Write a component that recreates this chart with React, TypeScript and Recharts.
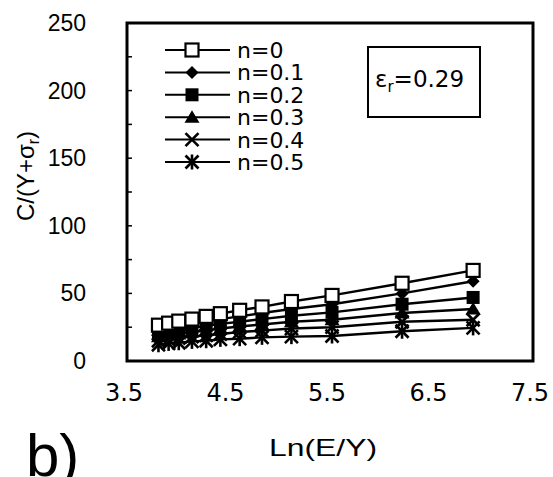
import React from "react";
import { LineChart, Line, XAxis, YAxis, ReferenceArea } from "recharts";

// Ln(E/Y) positions of the measured points
const lnEY = [3.81, 3.91, 4.01, 4.14, 4.28, 4.42, 4.61, 4.83, 5.12, 5.52, 6.21, 6.91];

// C/(Y+σr) for each n
const n0 = [26.5, 28, 29.5, 31, 33, 35, 37.5, 40, 44, 48.5, 57.5, 67];
const n01 = [23.5, 25, 26.5, 28, 29.5, 31, 33, 35.5, 38.5, 42, 50, 59];
const n02 = [20.5, 22, 23, 24.5, 26, 27.5, 29, 31, 33.5, 36, 42, 47];
const n03 = [18, 19, 20, 21.5, 22.5, 24, 25.5, 27, 29, 30.5, 35.5, 38.5];
const n04 = [15, 16, 17, 18, 19, 20, 21.5, 22.5, 24, 25, 29, 30.5];
const n05 = [12, 13, 13.5, 14.5, 15, 16, 16.5, 17.5, 18, 18.5, 22, 24.5];

const xTicks = [3.5, 4.5, 5.5, 6.5, 7.5];
const yTicks = [0, 25, 50, 75, 100, 125, 150, 175, 200, 225, 250];

const series = [
  { key: "n0", name: "n=0", values: n0, marker: "openSquare" },
  { key: "n01", name: "n=0.1", values: n01, marker: "diamond" },
  { key: "n02", name: "n=0.2", values: n02, marker: "square" },
  { key: "n03", name: "n=0.3", values: n03, marker: "triangle" },
  { key: "n04", name: "n=0.4", values: n04, marker: "cross" },
  { key: "n05", name: "n=0.5", values: n05, marker: "star" },
];

const data = lnEY.map((x, i) => {
  const row: any = { x };
  series.forEach((s) => (row[s.key] = s.values[i]));
  return row;
});

const ARIAL = "'Liberation Sans', Arial, sans-serif";
const WIDE = "'DejaVu Sans', sans-serif";

function Marker({ kind, cx, cy }: { kind: string; cx: number; cy: number }) {
  const s = 6.5;
  switch (kind) {
    case "openSquare":
      return <rect x={cx - s} y={cy - s} width={2 * s} height={2 * s} fill="#fff" stroke="#000" strokeWidth={2.2} />;
    case "diamond":
      return <polygon points={`${cx},${cy - s} ${cx + s},${cy} ${cx},${cy + s} ${cx - s},${cy}`} fill="#000" />;
    case "square":
      return <rect x={cx - s} y={cy - s} width={2 * s} height={2 * s} fill="#000" />;
    case "triangle":
      return <polygon points={`${cx},${cy - 7} ${cx + 7.5},${cy + 5.5} ${cx - 7.5},${cy + 5.5}`} fill="#000" />;
    case "cross":
      return (
        <g stroke="#000" strokeWidth={2.6}>
          <line x1={cx - s} y1={cy - s} x2={cx + s} y2={cy + s} />
          <line x1={cx - s} y1={cy + s} x2={cx + s} y2={cy - s} />
        </g>
      );
    default:
      return (
        <g stroke="#000" strokeWidth={2.6}>
          <line x1={cx - s} y1={cy - s} x2={cx + s} y2={cy + s} />
          <line x1={cx - s} y1={cy + s} x2={cx + s} y2={cy - s} />
          <line x1={cx} y1={cy - s - 1} x2={cx} y2={cy + s + 1} />
        </g>
      );
  }
}

const YTick = (props: any) => {
  const { x, y, payload } = props;
  return (
    <g>
      <line x1={x} y1={y} x2={x + 5} y2={y} stroke="#000" strokeWidth={1.5} />
      {payload.value % 50 === 0 && (
        <text x={x - 41} y={y + 8} textAnchor="end" fontSize={23} fontFamily={ARIAL} fill="#000">
          {payload.value}
        </text>
      )}
    </g>
  );
};

const XTick = (props: any) => {
  const { x, payload } = props;
  return (
    <text x={x - 3} y={401} textAnchor="middle" fontSize={24} fontFamily={WIDE} fill="#000">
      {payload.value}
    </text>
  );
};

export default function App() {
  return (
    <div style={{ position: "absolute", left: 0, top: 0, width: 553, height: 477, background: "#fff", fontFamily: ARIAL, overflow: "hidden" }}>
      <LineChart width={553} height={477} data={data} margin={{ top: 23, right: 20, bottom: 0, left: 0 }}>
        <XAxis
          dataKey="x"
          type="number"
          domain={[3.5, 7.5]}
          ticks={xTicks}
          height={116}
          axisLine={false}
          tickLine={false}
          tick={<XTick />}
          label={(p: any) => {
            const vb = p.viewBox || { x: 127, width: 406 };
            return (
              <text
                x={vb.x + vb.width / 2 - 7}
                y={456}
                textAnchor="middle"
                fontSize={24}
                fontFamily={ARIAL}
                textLength={108}
                lengthAdjust="spacingAndGlyphs"
                fill="#000"
              >
                Ln(E/Y)
              </text>
            );
          }}
        />
        <YAxis
          type="number"
          domain={[0, 250]}
          ticks={yTicks}
          width={127}
          axisLine={false}
          tickLine={false}
          tickSize={0}
          tickMargin={0}
          interval={0}
          tick={<YTick />}
          label={() => (
            <text
              x={34}
              y={176}
              transform="rotate(-90 34 176)"
              textAnchor="middle"
              fontSize={24}
              fontFamily={ARIAL}
              fill="#000"
            >
              C/(Y+σ<tspan fontSize={16} dy={5}>r</tspan>
              <tspan dy={-5}>)</tspan>
            </text>
          )}
        />
        <ReferenceArea x1={3.5} x2={7.5} y1={0} y2={250} fill="none" stroke="#000" strokeWidth={3} ifOverflow="visible" />
        {[...series].reverse().map((s) => (
          <Line
            key={s.key}
            dataKey={s.key}
            name={s.name}
            stroke="#000"
            strokeWidth={2.4}
            isAnimationActive={false}
            dot={(p: any) => (
              <g key={`${s.key}-${p.index}`}>
                <Marker kind={s.marker} cx={p.cx} cy={p.cy} />
              </g>
            )}
            activeDot={false}
          />
        ))}
      </LineChart>

      {/* legend */}
      <svg style={{ position: "absolute", left: 160, top: 38 }} width={190} height={140}>
        {series.map((s, i) => {
          const y = 12 + i * 22.4;
          return (
            <g key={s.key}>
              <line x1={5} y1={y} x2={70} y2={y} stroke="#000" strokeWidth={2} />
              <Marker kind={s.marker} cx={32} cy={y} />
              <text x={77} y={y + 8} fontSize={22} fontFamily={WIDE} fill="#000">
                {s.name}
              </text>
            </g>
          );
        })}
      </svg>

      {/* εr annotation */}
      <svg style={{ position: "absolute", left: 366, top: 45 }} width={118} height={76}>
        <rect x={2} y={2} width={112} height={70} fill="#fff" stroke="#000" strokeWidth={2} />
        <text x={9} y={42} fontSize={23} fontFamily={WIDE} fill="#000">
          ε<tspan fontSize={15} dy={5}>r</tspan>
          <tspan dy={-5}>=0.29</tspan>
        </text>
      </svg>

      <div style={{ position: "absolute", left: 26, top: 426, fontSize: 60, lineHeight: "60px", fontFamily: ARIAL, color: "#000" }}>
        b)
      </div>
    </div>
  );
}
